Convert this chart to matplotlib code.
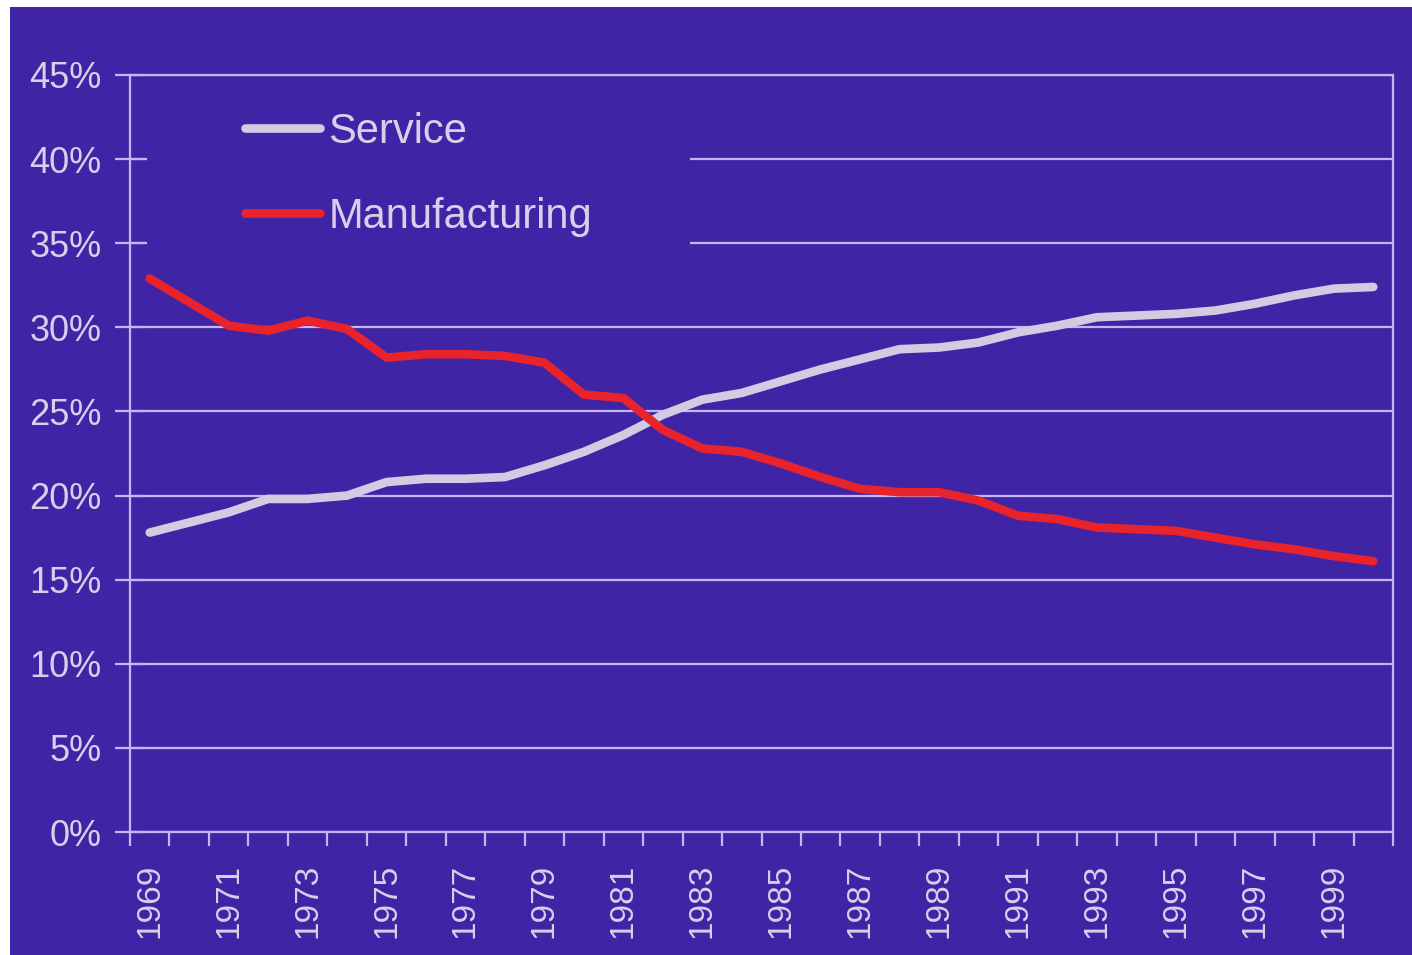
import numpy as np
import matplotlib.pyplot as plt
from matplotlib.patches import Rectangle

plt.rcParams['font.family'] = ['Liberation Sans', 'DejaVu Sans']

# share of employment, 1969-2000
years = list(range(1969, 2001))
service = [17.8, 18.4, 19.0, 19.8, 19.8, 20.0, 20.8, 21.0, 21.0, 21.1, 21.8,
           22.6, 23.6, 24.8, 25.7, 26.1, 26.8, 27.5, 28.1, 28.7, 28.8, 29.1,
           29.7, 30.1, 30.6, 30.7, 30.8, 31.0, 31.4, 31.9, 32.3, 32.4]
manufacturing = [32.9, 31.5, 30.1, 29.8, 30.4, 29.9, 28.2, 28.4, 28.4, 28.3, 27.9,
                 26.0, 25.8, 23.9, 22.8, 22.6, 21.9, 21.1, 20.4, 20.2, 20.2, 19.7,
                 18.8, 18.6, 18.1, 18.0, 17.9, 17.5, 17.1, 16.8, 16.4, 16.1]
yticks = [0, 5, 10, 15, 20, 25, 30, 35, 40, 45]

bg = '#4024A6'
fg = '#D8D0EA'
grid_c = '#C4B6F2'

fig = plt.figure(figsize=(14.12, 9.55), dpi=100, facecolor='white')
fig.patches.append(Rectangle((10 / 1412, 0), 1, 1 - 7 / 955, transform=fig.transFigure,
                             facecolor=bg, edgecolor='none', zorder=-10))
ax = fig.add_axes([130 / 1412, 1 - 832 / 955, 1263 / 1412, 757 / 955])
ax.set_facecolor(bg)

x = np.arange(len(years))
ax.set_xlim(-0.5, len(years) - 0.5)
ax.set_ylim(0, 45)

ax.set_yticks(yticks)
ax.set_yticklabels([f'{v}%' for v in yticks])
ax.yaxis.grid(True, color=grid_c, linewidth=1.6)
ax.set_axisbelow(True)

# ticks on category boundaries, labels on every other category
ax.set_xticks(np.arange(-0.5, len(years), 1.0))
ax.set_xticklabels([])
ax.set_xticks(x[::2], minor=True)
ax.set_xticklabels([str(y) for y in years[::2]], minor=True, rotation=90)
ax.tick_params(axis='x', which='major', direction='out', length=10, width=1.6, color=grid_c)
ax.tick_params(axis='x', which='minor', length=0, pad=23, labelsize=24, labelcolor=fg)
ax.tick_params(axis='y', direction='inout', length=21, width=1.6, color=grid_c,
               labelsize=26, labelcolor=fg, pad=10)

for s in ax.spines.values():
    s.set_color(grid_c)
    s.set_linewidth(1.6)

# legend area hides the gridlines
ax.add_patch(Rectangle(((147 - 130) / 1263, (832 - 252) / 757), (690 - 147) / 1263, 160 / 757,
                       transform=ax.transAxes, facecolor=bg, edgecolor='none', zorder=1.5))

ax.plot(x, service, color='#D2CCE2', linewidth=6.2, label='Service', zorder=3,
        solid_capstyle='round')
ax.plot(x, manufacturing, color='#E8232B', linewidth=6.2, label='Manufacturing', zorder=3,
        solid_capstyle='round')

leg = ax.legend(loc='upper left', bbox_to_anchor=((245 - 130) / 1263, (832 - 112) / 757),
                frameon=False, fontsize=30, handlelength=1.8, handletextpad=0.2,
                labelspacing=1.08, borderpad=0, borderaxespad=0)
for t in leg.get_texts():
    t.set_color(fg)

fig.savefig('out.png', dpi=100, facecolor='white')
